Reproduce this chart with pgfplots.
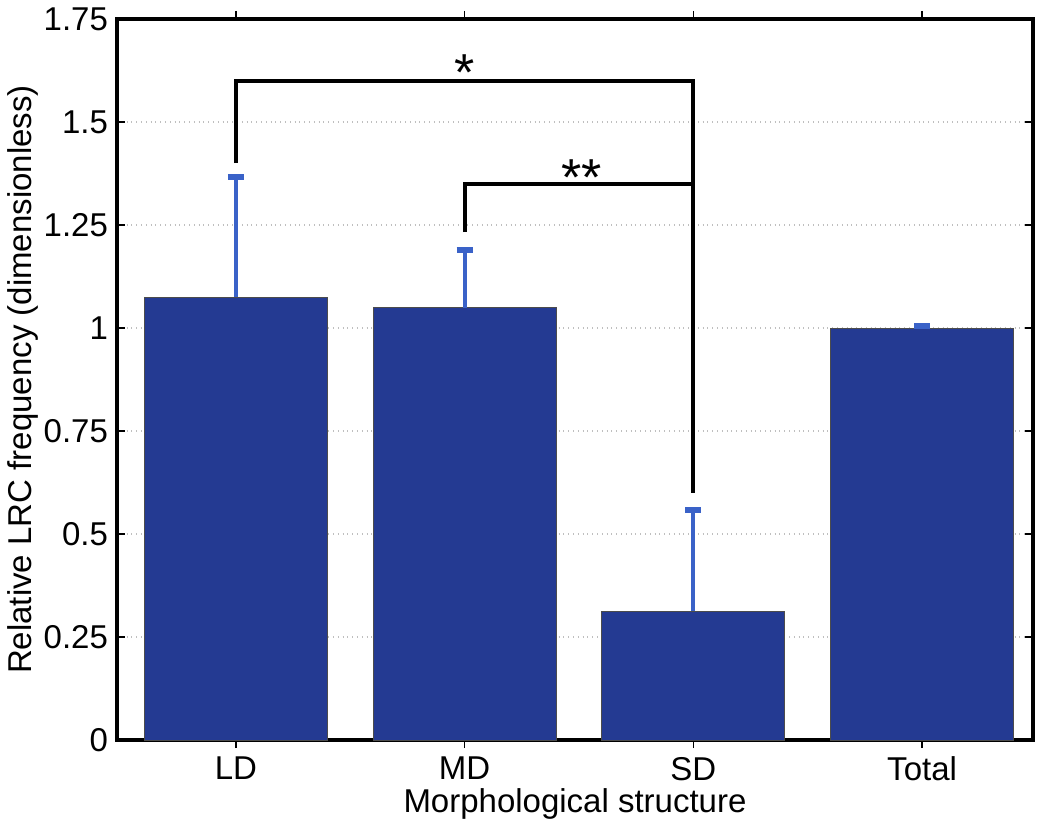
\documentclass[border=0pt]{standalone}
\usepackage{pgfplots}
\pgfplotsset{compat=1.18}
\usepackage{fontspec}
\setmainfont{Liberation Sans}
\definecolor{barblue}{RGB}{36,58,146}
\definecolor{errblue}{RGB}{58,98,200}
\begin{document}
\begin{tikzpicture}
\begin{axis}[
  scale only axis,
  width=458pt, height=360.5pt,
  xmin=0.48, xmax=4.485,
  ymin=0, ymax=1.75,
  xtick={1,2,3,4},
  xticklabels={LD,MD,SD,Total},
  ytick={0,0.25,0.5,0.75,1,1.25,1.5,1.75},
  yticklabels={0,0.25,0.5,0.75,1,1.25,1.5,1.75},
  tick align=inside,
  tick pos=both,
  major tick length=4pt,
  tick style={black, line width=0.6pt},
  axis line style={line width=2pt},
  ymajorgrids,
  grid style={gray!50, dotted, line width=0.6pt},
  ticklabel style={font=\fontsize{16.5}{18}\selectfont},
  label style={font=\fontsize{16.5}{18}\selectfont},
  xlabel={Morphological structure},
  ylabel={Relative LRC frequency (dimensionless)},
  xlabel style={yshift=3pt},
  ylabel style={yshift=-4pt},
  xticklabel style={yshift=-1pt},
  yticklabel style={xshift=-1pt},
  /pgf/number format/assume math mode=true,
  ybar, bar width=0.8,
]
\addplot[fill=barblue, draw=black!70, line width=0.5pt,
  error bars/.cd, y dir=plus, y explicit,
  error bar style={errblue, line width=2pt},
  error mark options={errblue, line width=3pt, mark size=4pt, rotate=90}]
  coordinates {
  (1,1.075) +- (0,0.292)
  (2,1.049) +- (0,0.140)
  (3,0.313) +- (0,0.245)
  (4,1.000) +- (0,0.004)
};
\addplot[black, line width=2pt, sharp plot, mark=none, forget plot] coordinates {(1,1.40) (1,1.60) (3,1.60) (3,0.60)};
\addplot[black, line width=2pt, sharp plot, mark=none, forget plot] coordinates {(2,1.233) (2,1.35) (3,1.35)};
\node[font=\fontsize{26}{28}\selectfont] at (axis cs:2,1.62) {*};
\node[font=\fontsize{26}{28}\selectfont] at (axis cs:2.51,1.365) {**};
\end{axis}
\pgfresetboundingbox
\path (current axis.south west) ++(-58.5pt,-43.5pt) coordinate (bl);
\path (current axis.north east) ++(8.5pt,9.5pt) coordinate (tr);
\path[use as bounding box] (bl) rectangle (tr);
\end{tikzpicture}
\end{document}
